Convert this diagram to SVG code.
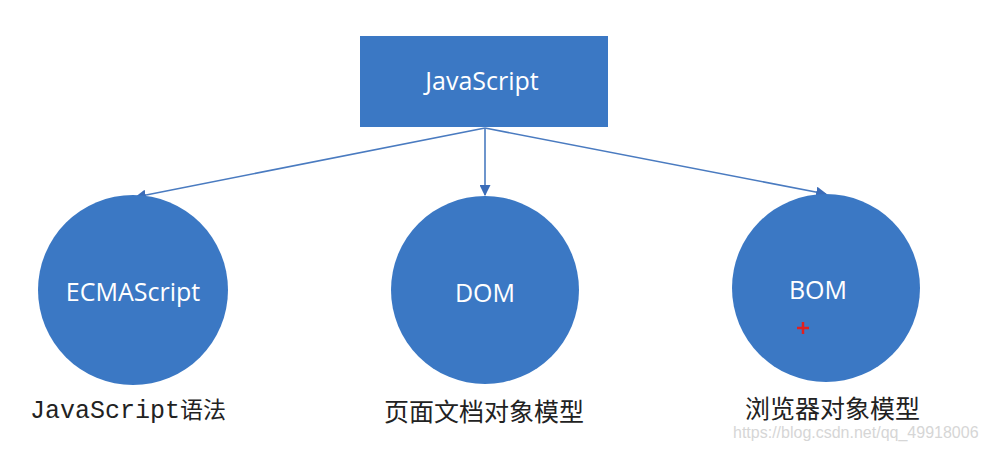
<svg xmlns="http://www.w3.org/2000/svg" width="983" height="450" viewBox="0 0 983 450">
<defs>
<style>
.shape{fill:#3b78c4;}
.wt{fill:#ffffff;font-family:"Open Sans","Noto Sans","Liberation Sans",sans-serif;text-anchor:middle;dominant-baseline:central;}
.con{stroke:#4a7bc0;stroke-width:1.6;fill:none;marker-end:url(#ah);}
.cap{fill:#222;font-family:"Noto Sans CJK SC","Noto Sans",sans-serif;font-size:25px;}
</style>
<marker id="ah" viewBox="0 0 10 10" refX="9" refY="5" markerWidth="11" markerHeight="11" markerUnits="userSpaceOnUse" orient="auto">
<path d="M0,0 L10,5 L0,10 z" fill="#3b6cb8"/>
</marker>
</defs>
<rect width="983" height="450" fill="#ffffff"/>
<g id="connectors">
<line class="con" x1="485" y1="128" x2="136" y2="197"/>
<line class="con" x1="485" y1="128" x2="485" y2="195"/>
<line class="con" x1="485" y1="128" x2="826" y2="194"/>
</g>
<g id="javascript">
<rect class="shape" x="360" y="36" width="248" height="91"/>
<text class="wt" x="482" y="80" font-size="25">JavaScript</text>
</g>
<g id="ecmascript">
<circle class="shape" cx="133" cy="290" r="95"/>
<text class="wt" x="133" y="291" font-size="25">ECMAScript</text>
</g>
<g id="dom">
<circle class="shape" cx="485" cy="290" r="94"/>
<text class="wt" x="485" y="292" font-size="25">DOM</text>
</g>
<g id="bom">
<circle class="shape" cx="826" cy="288" r="94"/>
<text class="wt" x="818" y="289" font-size="25">BOM</text>
<path d="M797,328 H809 M803,322 V334" stroke="#e02020" stroke-width="2.5"/>
</g>
<text x="30" y="418" font-family="'Liberation Mono','Noto Sans CJK SC',monospace" font-size="25" fill="#222">JavaScript<tspan font-family="'Noto Sans CJK SC',sans-serif" font-size="23">语法</tspan></text>
<text class="cap" x="384" y="421">页面文档对象模型</text>
<text class="cap" x="745" y="418">浏览器对象模型</text>
<text x="733" y="438" font-family="'Liberation Sans',sans-serif" font-size="16" fill="#d6d6d6">https://blog.csdn.net/qq_49918006</text>
</svg>
